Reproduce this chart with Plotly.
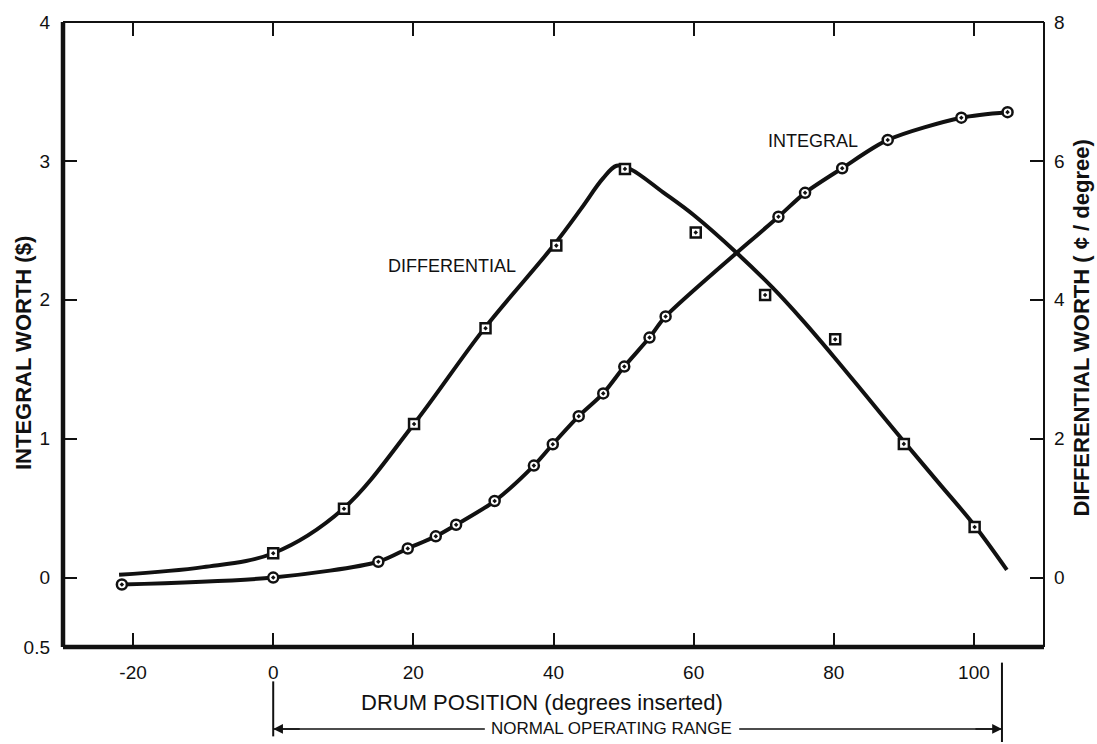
import plotly.graph_objects as go

# ---- data ----
integral_x = [-21.6, 0, 15, 19.2, 23.2, 26.1, 31.6, 37.2, 39.9, 43.6, 47.1, 50.1, 53.7, 56.0,
              72.1, 75.9, 81.2, 87.7, 98.2, 104.8]
integral_y = [-0.05, 0.0, 0.114, 0.209, 0.297, 0.38, 0.551, 0.806, 0.96, 1.162, 1.326, 1.519,
              1.728, 1.88, 2.598, 2.77, 2.947, 3.151, 3.311, 3.351]

diff_pts_x = [0, 10.1, 20.1, 30.3, 40.4, 50.2, 60.3, 70.2, 80.2, 90.0, 100.1]
diff_pts_y = [0.35, 0.99, 2.21, 3.59, 4.78, 5.885, 4.97, 4.07, 3.43, 1.925, 0.727]

diff_curve_x = [-22, -10, 0, 10, 20, 30, 40, 44, 47, 49, 51, 55.6, 60, 66.2,
                71.3, 75.5, 80, 85, 90, 95, 100, 104.7]
diff_curve_y = [0.04, 0.15, 0.35, 0.99, 2.2, 3.57, 4.78, 5.32, 5.74, 5.93, 5.88, 5.55,
                5.22, 4.67, 4.17, 3.71, 3.18, 2.57, 1.96, 1.36, 0.76, 0.11]

x_ticks = [-20, 0, 20, 40, 60, 80, 100]
x_ticktext = ["-20", "0", "20", "40", "60", "80", "100"]
y1_ticks = [-0.5, 0, 1, 2, 3, 4]
y1_ticktext = ["0.5", "0", "1", "2", "3", "4"]
y2_ticks = [0, 2, 4, 6, 8]
normal_range = [0, 104]

FONT = "Liberation Sans, Arial, sans-serif"
BLACK = "#111111"

fig = go.Figure()

fig.add_trace(go.Scatter(x=diff_curve_x, y=diff_curve_y, mode="lines", yaxis="y2",
                         line=dict(color=BLACK, width=4, shape="spline", smoothing=1),
                         showlegend=False, hoverinfo="skip"))
fig.add_trace(go.Scatter(x=diff_pts_x, y=diff_pts_y, mode="markers", yaxis="y2",
                         marker=dict(symbol="square-dot", size=10, color="white",
                                     line=dict(color=BLACK, width=2.5)),
                         showlegend=False))
fig.add_trace(go.Scatter(x=integral_x, y=integral_y, mode="lines+markers",
                         line=dict(color=BLACK, width=4, shape="spline", smoothing=0.8),
                         marker=dict(symbol="circle-dot", size=10, color="white",
                                     line=dict(color=BLACK, width=2.5)),
                         showlegend=False))
# dummy trace to carry the top axis
fig.add_trace(go.Scatter(x=[None], y=[None], xaxis="x2", showlegend=False, hoverinfo="skip"))

tickfont = dict(family=FONT, size=19, color=BLACK)

fig.update_layout(
    width=1097, height=744,
    margin=dict(l=63, r=53, t=15, b=97),
    paper_bgcolor="white", plot_bgcolor="white",
    showlegend=False,
    xaxis=dict(range=[-30, 110], tickvals=x_ticks, ticktext=x_ticktext, ticks="inside",
               ticklen=14, tickwidth=2, tickcolor=BLACK, showgrid=False, zeroline=False,
               showline=False, tickfont=tickfont, ticklabelstandoff=12),
    xaxis2=dict(range=[-30, 110], overlaying="x", side="top", tickvals=x_ticks,
                ticks="inside", ticklen=14, tickwidth=2, tickcolor=BLACK,
                showticklabels=False, showgrid=False, zeroline=False, showline=False),
    yaxis=dict(range=[-0.5, 4], tickvals=y1_ticks, ticktext=y1_ticktext, ticks="inside",
               ticklen=14, tickwidth=2, tickcolor=BLACK, showgrid=False, zeroline=False,
               showline=False, tickfont=tickfont, ticklabelstandoff=12),
    yaxis2=dict(range=[-1, 8], tickvals=y2_ticks, overlaying="y", side="right",
                ticks="inside", ticklen=14, tickwidth=2, tickcolor=BLACK, showgrid=False,
                zeroline=False, showline=False, tickfont=tickfont, ticklabelstandoff=9),
)

# frame
frame = [
    (0, 0, 0, 1, 4.5),   # left
    (0, 0, 1, 0, 4.5),   # bottom
    (0, 1, 1, 1, 2),     # top
    (1, 0, 1, 1, 2),     # right
]
for x0, y0, x1, y1, w in frame:
    fig.add_shape(type="line", xref="paper", yref="paper", x0=x0, y0=y0, x1=x1, y1=y1,
                  line=dict(color=BLACK, width=w))

# axis titles
fig.add_annotation(text="<b>INTEGRAL WORTH ($)</b>", xref="paper", yref="paper",
                   x=-0.041, y=0.47, xanchor="center", yanchor="middle", textangle=-90,
                   showarrow=False, font=dict(family=FONT, size=22, color=BLACK))
fig.add_annotation(text="<b>DIFFERENTIAL WORTH ( ¢ / degree)</b>", xref="paper", yref="paper",
                   x=1.038, y=0.51, xanchor="center", yanchor="middle", textangle=-90,
                   showarrow=False, font=dict(family=FONT, size=22, color=BLACK))
fig.add_annotation(text="DRUM POSITION (degrees inserted)", xref="x", yref="paper",
                   x=38.3, y=-0.088, xanchor="center", yanchor="middle", showarrow=False,
                   font=dict(family=FONT, size=22, color=BLACK))

# curve labels
fig.add_annotation(text="DIFFERENTIAL", xref="x", yref="y", x=25.5, y=2.24, showarrow=False,
                   font=dict(family=FONT, size=18, color=BLACK))
fig.add_annotation(text="INTEGRAL", xref="x", yref="y", x=77.1, y=3.14, showarrow=False,
                   font=dict(family=FONT, size=18, color=BLACK))

# normal operating range bracket
y_arrow = -0.131
fig.add_shape(type="line", xref="x", yref="paper", x0=normal_range[0], x1=normal_range[0],
              y0=-0.055, y1=-0.143, line=dict(color=BLACK, width=2))
fig.add_shape(type="line", xref="x", yref="paper", x0=normal_range[1], x1=normal_range[1],
              y0=-0.025, y1=-0.152, line=dict(color=BLACK, width=2))
fig.add_shape(type="line", xref="x", yref="paper", x0=normal_range[0], x1=30.2,
              y0=y_arrow, y1=y_arrow, line=dict(color=BLACK, width=1.5))
fig.add_shape(type="line", xref="x", yref="paper", x0=66.5, x1=normal_range[1],
              y0=y_arrow, y1=y_arrow, line=dict(color=BLACK, width=1.5))
fig.add_annotation(text="NORMAL OPERATING RANGE", xref="x", yref="paper", x=48.3, y=y_arrow,
                   xanchor="center", yanchor="middle", showarrow=False,
                   font=dict(family=FONT, size=17, color=BLACK))
for head, tail in [(normal_range[0], 4), (normal_range[1], normal_range[1] - 4)]:
    fig.add_annotation(x=head, y=y_arrow, xref="x", yref="paper", ax=tail, ay=0,
                       axref="x", ayref="pixel", text="", showarrow=True, arrowhead=2,
                       arrowsize=1.3, arrowwidth=1.5, arrowcolor=BLACK)

fig.write_html("out.html")
